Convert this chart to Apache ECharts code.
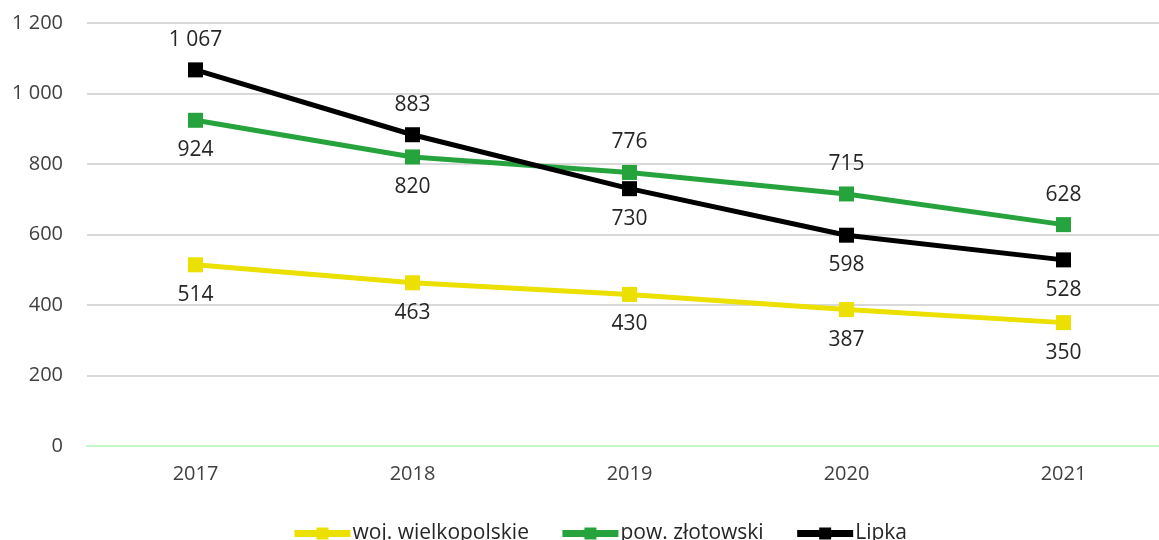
<!DOCTYPE html>
<html>
<head>
<meta charset="utf-8">
<script src="https://cdn.jsdelivr.net/npm/echarts@6/dist/echarts.min.js"></script>
<style>
html,body{margin:0;padding:0;background:#fff;}
#main{width:1159px;height:540px;}
</style>
</head>
<body>
<div id="main"></div>
<script>
var years = ['2017', '2018', '2019', '2020', '2021'];
var woj = [514, 463, 430, 387, 350];
var pow = [924, 820, 776, 715, 628];
var lipka = [1067, 883, 730, 598, 528];
// label above (true) or below (false) each point
var powUp = [false, false, true, true, true];
var lipkaUp = [true, true, false, false, false];

function fmt(v){
	return String(v).replace(/\B(?=(\d{3})+(?!\d))/g, ' ');
}

function pts(vals, ups){
	return vals.map(function(v, i){
		var up = ups ? ups[i] : false;
		return {value: v, label: {position: up ? 'top' : 'bottom'}};
	});
}

function serie(name, color, data){
	return {
		name: name,
		type: 'line',
		data: data,
		symbol: 'rect',
		symbolSize: 15,
		lineStyle: {color: color, width: 5},
		itemStyle: {color: color},
		label: {
			show: true,
			distance: 12,
			fontSize: 21,
			color: '#262626',
			fontFamily: 'Open Sans',
			formatter: function(p){ return fmt(p.value); }
		},
		emphasis: {disabled: true}
	};
}

var myChart = echarts.init(document.getElementById('main'));
var option = {
	animation: false,
	textStyle: {fontFamily: 'Open Sans'},
	grid: {left: 87, top: 23, width: 1085, height: 423, containLabel: false, outerBoundsMode: 'none'},
	legend: {
		bottom: -9,
		left: 286,
		itemWidth: 56,
		itemHeight: 15,
		itemGap: 30,
		lineStyle: {width: 7},
		textStyle: {fontSize: 21, color: '#262626', fontFamily: 'Open Sans', padding: [0, 0, 0, -3]},
		data: ['woj. wielkopolskie', 'pow. złotowski', 'Lipka']
	},
	xAxis: {
		type: 'category',
		data: years,
		boundaryGap: true,
		axisLine: {lineStyle: {color: '#c6f5c6', width: 2}},
		axisTick: {show: false},
		axisLabel: {fontSize: 20, color: '#404040', margin: 18}
	},
	yAxis: {
		type: 'value',
		min: 0,
		max: 1200,
		interval: 200,
		axisLine: {show: false},
		axisTick: {show: false},
		axisLabel: {fontSize: 20, color: '#404040', margin: 24, formatter: fmt},
		splitLine: {lineStyle: {color: '#d9d9d9', width: 2}}
	},
	series: [
		serie('woj. wielkopolskie', '#ebe000', pts(woj)),
		serie('pow. złotowski', '#26a33c', pts(pow, powUp)),
		serie('Lipka', '#000000', pts(lipka, lipkaUp))
	]
};
myChart.setOption(option);
</script>
</body>
</html>
